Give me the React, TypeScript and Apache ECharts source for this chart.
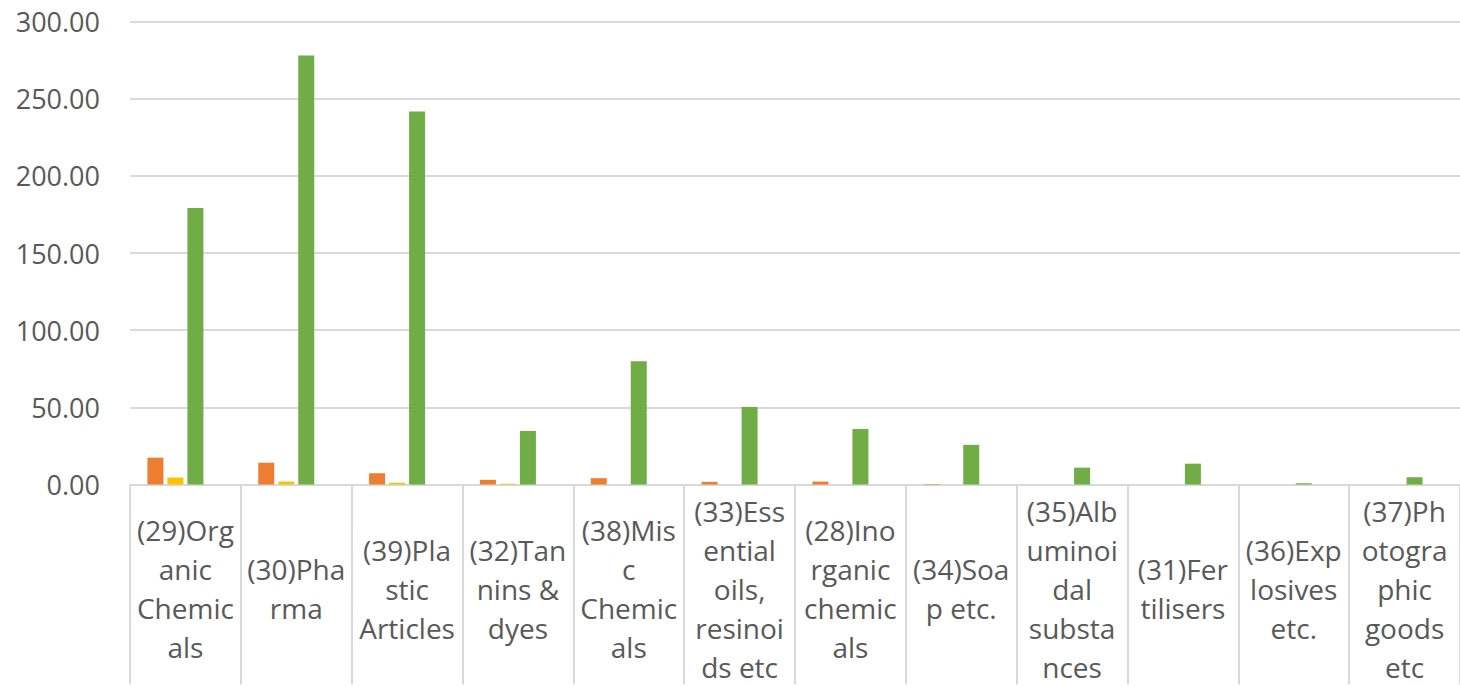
import React, { useEffect, useRef } from "react";
import * as echarts from "echarts";

// Category labels (wrapped as in the reference)
const categories: string[] = [
  "(29)Org\nanic\nChemic\nals",
  "(30)Pha\nrma",
  "(39)Pla\nstic\nArticles",
  "(32)Tan\nnins &\ndyes",
  "(38)Mis\nc\nChemic\nals",
  "(33)Ess\nential\noils,\nresinoi\nds etc",
  "(28)Ino\nrganic\nchemic\nals",
  "(34)Soa\np etc.",
  "(35)Alb\numinoi\ndal\nsubsta\nnces",
  "(31)Fer\ntilisers",
  "(36)Exp\nlosives\netc.",
  "(37)Ph\notogra\nphic\ngoods\netc",
];

const seriesA: number[] = [17.4, 14.1, 7.3, 3.0, 4.1, 1.7, 1.9, 0.3, 0, 0, 0, 0];
const seriesB: number[] = [4.5, 1.9, 1.1, 0.5, 0, 0, 0, 0, 0, 0, 0, 0];
const seriesC: number[] = [179.1, 278.0, 241.7, 34.7, 79.9, 50.2, 36.0, 25.7, 10.9, 13.5, 0.8, 4.7];
const seriesD: number[] = [0, 0, 0, 0, 0, 0, 0, 0, 0, 0, 0, 0];

const yTicks = { min: 0, max: 300, interval: 50 };

const FONT = "'Open Sans', 'Segoe UI', sans-serif";
const TEXT = "#595959";
const LINE = "#d9d9d9";

export default function App() {
  const ref = useRef<HTMLDivElement>(null);

  useEffect(() => {
    if (!ref.current) return;
    const chart = echarts.init(ref.current, undefined, { renderer: "svg" });
    const mkBar = (name: string, data: number[], color: string) => ({
      name,
      type: "bar" as const,
      data,
      barWidth: 16,
      barGap: "25%",
      itemStyle: { color },
    });
    chart.setOption({
      animation: false,
      backgroundColor: "#ffffff",
      grid: { left: 130, right: -3, top: 21.5, bottom: 198 },
      xAxis: {
        type: "category",
        data: categories,
        boundaryGap: true,
        axisLine: { show: true, lineStyle: { color: LINE, width: 2 } },
        axisTick: { show: true, length: 200, interval: 0, lineStyle: { color: LINE, width: 2 } },
        axisLabel: {
          interval: 0,
          margin: 104,
          verticalAlign: "middle",
          align: "center",
          lineHeight: 39,
          fontSize: 28,
          fontFamily: FONT,
          color: TEXT,
        },
        splitLine: { show: false },
      },
      yAxis: {
        type: "value",
        min: yTicks.min,
        max: yTicks.max,
        interval: yTicks.interval,
        axisLine: { show: false },
        axisTick: { show: false },
        axisLabel: {
          margin: 30,
          fontSize: 27,
          fontFamily: FONT,
          color: TEXT,
          formatter: (v: number) => v.toFixed(2),
        },
        splitLine: { show: true, lineStyle: { color: LINE, width: 2 } },
      },
      series: [
        mkBar("Series 1", seriesA, "#ED7D31"),
        mkBar("Series 2", seriesB, "#FFC000"),
        mkBar("Series 3", seriesC, "#70AD47"),
        mkBar("Series 4", seriesD, "#4472C4"),
      ],
    });
    return () => chart.dispose();
  }, []);

  return (
    <div
      ref={ref}
      style={{ position: "absolute", left: 0, top: 0, width: 1460, height: 686 }}
    />
  );
}
